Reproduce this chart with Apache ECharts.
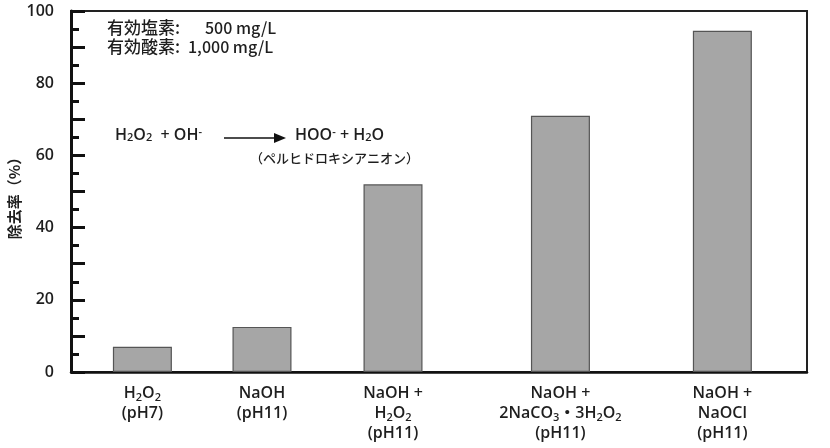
<!DOCTYPE html>
<html><head><meta charset="utf-8">
<script src="https://cdn.jsdelivr.net/npm/echarts@6/dist/echarts.min.js"></script>
<style>html,body{margin:0;padding:0;background:#fff}#c{width:830px;height:448px}</style>
</head><body><div id="c"></div>
<script>
// Data
const categories = [
  'H{s|2}O{s|2}\n(pH7)',
  'NaOH\n(pH11)',
  'NaOH +\nH{s|2}O{s|2}\n(pH11)',
  'NaOH +\n2NaCO{s|3}・3H{s|2}O{s|2}\n(pH11)',
  'NaOH +\nNaOCl\n(pH11)'
];
const categoryPositions = [9.7, 25.95, 43.75, 66.5, 88.5];
const removalRate = [7, 12.5, 52, 71, 94.5];
const yTicks = [0, 20, 40, 60, 80, 100];

const latin = "'Open Sans','Noto Sans CJK JP',sans-serif";
const txt = '#1e1e1e';
const chart = echarts.init(document.getElementById('c'));
chart.setOption({
  animation: false,
  grid: {left: 71, right: 23, top: 11, bottom: 76, outerBoundsMode: 'none', containLabel: false, show: true, borderColor: '#222', borderWidth: 2, backgroundColor: 'transparent'},
  xAxis: {
    type: 'value', min: 0, max: 100,
    splitLine: {show: false},
    axisLine: {show: true, lineStyle: {color: '#111', width: 2.5}},
    axisTick: {show: false},
    axisLabel: {
      customValues: categoryPositions,
      margin: 11,
      color: txt, fontSize: 16, fontWeight: 600, fontFamily: latin, lineHeight: 20,
      formatter: function (v) {
        let i = categoryPositions.indexOf(v);
        if (i < 0) { let best = 0; categoryPositions.forEach((p, k) => { if (Math.abs(p - v) < Math.abs(categoryPositions[best] - v)) best = k; }); i = best; }
        return categories[i];
      },
      rich: {s: {fontSize: 11, fontWeight: 600, verticalAlign: 'bottom', lineHeight: 14, color: txt, fontFamily: latin}}
    }
  },
  yAxis: {
    type: 'value', min: 0, max: 100, interval: 10,
    name: '除去率（%）', nameLocation: 'middle', nameGap: 49, nameRotate: 90, nameMoveOverlap: false,
    nameTextStyle: {color: txt, fontSize: 15, fontWeight: 'bold', fontFamily: "'Noto Sans CJK JP',sans-serif", padding: [0, 6, 0, 0]},
    splitLine: {show: false},
    axisLine: {show: true, lineStyle: {color: '#111', width: 3}},
    axisTick: {show: true, inside: true, length: 14, lineStyle: {color: '#111', width: 3}},
    minorTick: {show: true, splitNumber: 2, length: 8, lineStyle: {color: '#111', width: 3}},
    axisLabel: {
      margin: 17, color: txt, fontSize: 16, fontWeight: 600, fontFamily: latin,
      formatter: v => yTicks.indexOf(v) >= 0 ? String(v) : ''
    }
  },
  series: [{
    type: 'bar', barWidth: 59,
    data: categoryPositions.map((x, i) => [x, removalRate[i]]),
    itemStyle: {color: '#a6a6a6', borderColor: '#555', borderWidth: 1.2}
  }],
  graphic: [
    {type: 'text', left: 107, top: 19, style: {text: '有効塩素:', fill: txt, font: "500 17px 'Noto Sans CJK JP',sans-serif"}},
    {type: 'text', left: 205, top: 20, style: {text: '500 mg/L', fill: txt, font: "500 16px 'Noto Sans CJK JP',sans-serif"}},
    {type: 'text', left: 107, top: 38, style: {text: '有効酸素:', fill: txt, font: "500 17px 'Noto Sans CJK JP',sans-serif"}},
    {type: 'text', left: 188, top: 39, style: {text: '1,000 mg/L', fill: txt, font: "500 16px 'Noto Sans CJK JP',sans-serif"}},
    {type: 'text', left: 115, top: 127, style: {
      text: 'H{s|2}O{s|2}  + OH{p|-}', fill: txt, font: "600 16px 'Open Sans',sans-serif",
      rich: {s: {fontSize: 11, fontWeight: 600, verticalAlign: 'bottom', fill: txt, fontFamily: latin}, p: {fontSize: 11, fontWeight: 600, verticalAlign: 'top', fill: txt, fontFamily: latin}}
    }},
    {type: 'line', shape: {x1: 224, y1: 138, x2: 276, y2: 138}, style: {stroke: '#111', lineWidth: 1.5}},
    {type: 'polygon', shape: {points: [[274, 133], [286, 138], [274, 143]]}, style: {fill: '#111'}},
    {type: 'text', left: 295, top: 127, style: {
      text: 'HOO{p|-} + H{s|2}O', fill: txt, font: "600 16px 'Open Sans',sans-serif",
      rich: {s: {fontSize: 11, fontWeight: 600, verticalAlign: 'bottom', fill: txt, fontFamily: latin}, p: {fontSize: 11, fontWeight: 600, verticalAlign: 'top', fill: txt, fontFamily: latin}}
    }},
    {type: 'text', left: 250, top: 152, style: {text: '（ペルヒドロキシアニオン）', fill: txt, font: "500 13px 'Noto Sans CJK JP',sans-serif"}}
  ]
});
</script></body></html>
